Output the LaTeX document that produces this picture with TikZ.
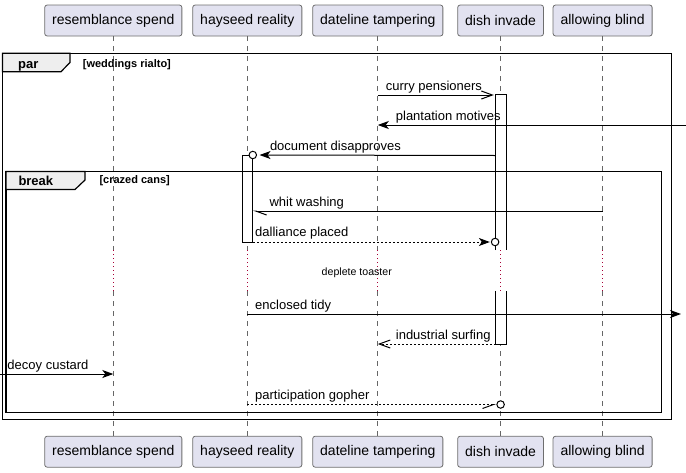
\documentclass[tikz,border=0pt]{standalone}
\usepackage{fontspec}
\setmainfont{Liberation Sans}
\usetikzlibrary{arrows.meta,calc}
\definecolor{partfill}{HTML}{E2E2F0}
\definecolor{partdraw}{HTML}{6E6E6E}
\definecolor{lifecol}{HTML}{666666}
\definecolor{delaycol}{HTML}{A80036}
\definecolor{tabfill}{HTML}{EEEEEE}
\begin{document}
\begin{tikzpicture}[x=1pt,y=-1pt,
  part/.style={draw=partdraw, fill=partfill, line width=0.8pt, rounded corners=2.5pt, minimum height=31pt, inner xsep=7.5pt, inner ysep=0pt, font=\fontsize{14}{16}\selectfont, anchor=center},
  life/.style={draw=lifecol, line width=0.7pt, dash pattern=on 5pt off 5pt},
  delayline/.style={draw=delaycol, line width=0.8pt, dash pattern=on 1pt off 3pt},
  msg/.style={draw=black, line width=1pt},
  rmsg/.style={msg, dash pattern=on 2pt off 2pt},
  filled/.style={-{Stealth[length=11pt,width=8pt,inset=3pt]}},
  openhead/.style={-{Straight Barb[length=11pt,width=8pt]}},
  halfhead/.style={-{Straight Barb[harpoon,length=11pt,width=8pt]}},
  halfheadsw/.style={-{Straight Barb[harpoon,swap,length=11pt,width=8pt]}},
  lbl/.style={anchor=base west, inner sep=0pt, font=\fontsize{13}{15}\selectfont},
  act/.style={fill=white, minimum width=10pt, inner sep=0pt},
  frame/.style={draw=black, line width=1.4pt},
  tab/.style={draw=black, fill=tabfill, line width=1.2pt},
  tabname/.style={anchor=base west, inner sep=0pt, font=\fontsize{13}{15}\selectfont\bfseries},
  guard/.style={anchor=base west, inner sep=0pt, font=\fontsize{11}{13}\selectfont\bfseries},
  endcirc/.style={draw=black, fill=white, line width=1pt, circle, minimum size=7.5pt, inner sep=0pt}
]
\useasboundingbox (0,0) rectangle (686,472);

% participants
\node[part] (rsT) at (113.3,20.5) {resemblance spend};
\node[part] (hrT) at (247.3,20.5) {hayseed reality};
\node[part] (dtT) at (377.8,20.5) {dateline tampering};
\node[part] (diT) at (500.6,20.5) {dish invade};
\node[part] (abT) at (602.6,20.5) {allowing blind};
\node[part] (rsB) at (113.3,451.7) {resemblance spend};
\node[part] (hrB) at (247.3,451.7) {hayseed reality};
\node[part] (dtB) at (377.8,451.7) {dateline tampering};
\node[part] (diB) at (500.6,451.7) {dish invade};
\node[part] (abB) at (602.6,451.7) {allowing blind};

% helper coordinates
\coordinate (dly1) at (0,250);
\coordinate (dly2) at (0,291);
\coordinate (leftedge) at (0,0);
\coordinate (rightedge) at (686,0);
\coordinate (m1) at (0,95);
\coordinate (m2) at (0,125);
\coordinate (m3) at (0,155.5);
\coordinate (m4) at (0,211);
\coordinate (m5) at (0,242);
\coordinate (m6) at (0,314);
\coordinate (m7) at (0,344);
\coordinate (m8) at (0,374);
\coordinate (m9) at (0,404.5);

% lifelines
\foreach \p in {rs,hr,dt,di,ab}{
  \draw[life] (\p T.south) -- (\p T.south |- dly1);
  \draw[delayline] (\p T.south |- dly1) -- (\p T.south |- dly2);
  \draw[life] (\p T.south |- dly2) -- (\p B.north);
}

% activations
\node[act, minimum height=155pt] (actDi1) at (501,172.5) {};
\draw[line width=1pt] (actDi1.south west) -- (actDi1.north west) -- (actDi1.north east) -- (actDi1.south east);
\node[act, minimum height=53pt] (actDi2) at (501,317.5) {};
\draw[line width=1pt] (actDi2.north west) -- (actDi2.south west) -- (actDi2.south east) -- (actDi2.north east);
\node[act, draw=black, line width=1pt, minimum height=86.5pt] (actHr) at (247.3,198.75) {};

% frames
\draw[frame] (2.5,53.3) rectangle (671.5,419.5);
\draw[tab] (2.5,53.3) -- (70,53.3) -- (70,62.5) -- (61,71.7) -- (2.5,71.7) -- cycle;
\node[tabname] (parlbl) at (18,68.3) {par};
\node[guard] (parguard) at (82.7,67) {[weddings rialto]};

\draw[frame] (6,171.5) rectangle (661.5,412.7);
\draw[tab] (6,171.5) -- (85,171.5) -- (85,180) -- (75,189.5) -- (6,189.5) -- cycle;
\node[tabname] (brklbl) at (18.3,185) {break};
\node[guard] (brkguard) at (99.3,183.3) {[crazed cans]};

% messages
\draw[msg,openhead,shorten >=2pt] (dtT |- m1) -- (actDi1.west |- m1);
\node[lbl] (t1) at (385.7,90) {curry pensioners};

\draw[msg,filled] (rightedge |- m2) -- (dtT |- m2);
\node[lbl] (t2) at (395.7,120) {plantation motives};

\node[endcirc] (c3) at (actHr.north east) {};
\draw[msg,filled,shorten >=2.5pt] (actDi1.west |- m3) -- (c3.east);
\node[lbl] (t3) at (269.8,150.5) {document disapproves};

\draw[msg,halfhead] (abT |- m4) -- (actHr.east |- m4);
\node[lbl] (t4) at (269.3,206) {whit washing};

\node[endcirc] (c5) at ($(actDi1.west |- m5)+(-0.7,0)$) {};
\draw[rmsg,filled,shorten >=1pt] (actHr.east |- m5) -- (c5.west);
\node[lbl] (t5) at (255,236.5) {dalliance placed};

\node[anchor=base, inner sep=0pt, font=\fontsize{10.6}{12}\selectfont] (dtxt) at (356.8,275) {deplete toaster};

\draw[msg,filled,shorten >=5pt] (hrT |- m6) -- (rightedge |- m6);
\node[lbl] (t6) at (255,309) {enclosed tidy};

\draw[rmsg,openhead] (actDi2.west |- m7) -- (dtT |- m7);
\node[lbl] (t7) at (395.7,339.3) {industrial surfing};

\draw[msg,filled] (leftedge |- m8) -- (rsT |- m8);
\node[lbl] (t8) at (7.3,369) {decoy custard};

\node[endcirc] (c9) at (diT |- m9) {};
\draw[rmsg,halfheadsw] (hrT |- m9) -- (c9.west);
\node[lbl] (t9) at (255,399.3) {participation gopher};
\end{tikzpicture}
\end{document}
